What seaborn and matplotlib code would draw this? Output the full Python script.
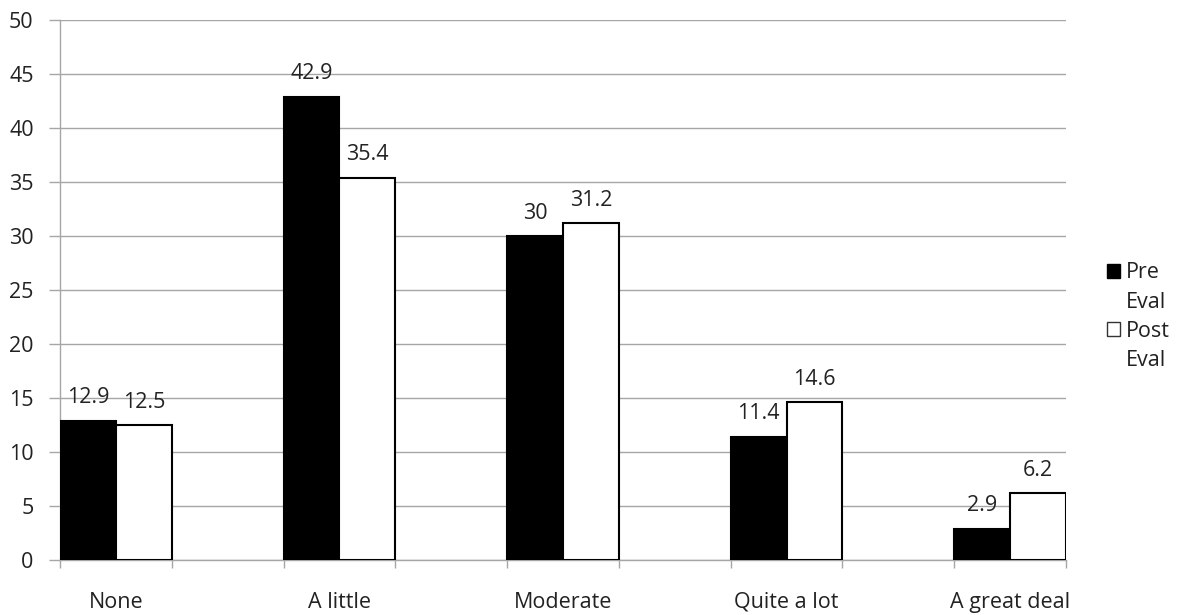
import matplotlib
matplotlib.use("Agg")
import matplotlib.pyplot as plt
import seaborn as sns
import pandas as pd
from matplotlib.patches import Patch
from matplotlib.ticker import FixedLocator

categories = ["None", "A little", "Moderate", "Quite a lot", "A great deal"]
pre_eval = [12.9, 42.9, 30, 11.4, 2.9]
post_eval = [12.5, 35.4, 31.2, 14.6, 6.2]
series = ["Pre Eval", "Post Eval"]
yticks = list(range(0, 51, 5))

df = pd.DataFrame({
    "category": categories * 2,
    "value": pre_eval + post_eval,
    "series": [series[0]] * len(categories) + [series[1]] * len(categories),
})

sns.set_theme(style="white")
plt.rcParams["font.family"] = ["Open Sans", "DejaVu Sans"]

fig = plt.figure(figsize=(11.82, 6.15), dpi=100)
ax = fig.add_axes([0.0508, 0.0894, 0.851, 0.878])

sns.barplot(data=df, x="category", y="value", hue="series", order=categories,
            hue_order=series, palette=["black", "white"], width=0.5,
            edgecolor="black", linewidth=1.5, legend=False, ax=ax, zorder=3)

grey = "#a6a6a6"
text_col = "#222222"
fs = 15.5
ax.set_ylim(0, 50)
ax.set_xlim(-0.25, len(categories) - 0.75)
ax.set_yticks(yticks)
ax.yaxis.grid(True, color=grey, linewidth=1)
ax.set_axisbelow(True)
for side in ("top", "right"):
    ax.spines[side].set_visible(False)
for side in ("left", "bottom"):
    ax.spines[side].set_color(grey)
    ax.spines[side].set_linewidth(1)

ax.tick_params(axis="y", which="major", length=8, color=grey, width=1,
               labelsize=fs, labelcolor=text_col, pad=11, left=True)
ax.tick_params(axis="x", which="major", length=0, labelsize=fs,
               labelcolor=text_col, pad=23)
edges = []
for i in range(len(categories)):
    edges += [i - 0.25, i + 0.25]
ax.xaxis.set_minor_locator(FixedLocator(edges))
ax.tick_params(axis="x", which="minor", length=6, color=grey, width=1, bottom=True)
ax.set_xlabel("")
ax.set_ylabel("")

for container in ax.containers:
    labels = [f"{v:g}" for v in container.datavalues]
    ax.bar_label(container, labels=labels, padding=9, fontsize=fs, color=text_col)

blank = Patch(facecolor="none", edgecolor="none")
handles = [Patch(facecolor="black", edgecolor="black"), blank,
           Patch(facecolor="white", edgecolor="#333333"), blank]
labels = ["Pre", "Eval", "Post", "Eval"]
fig.legend(handles=handles, labels=labels, loc="center left",
           bbox_to_anchor=(0.9365, 0.485), frameon=False, fontsize=fs,
           handlelength=0.6, handleheight=0.6, handletextpad=0.3,
           labelspacing=0.38, labelcolor=text_col, borderpad=0, borderaxespad=0)

fig.savefig("out.png", dpi=100)
